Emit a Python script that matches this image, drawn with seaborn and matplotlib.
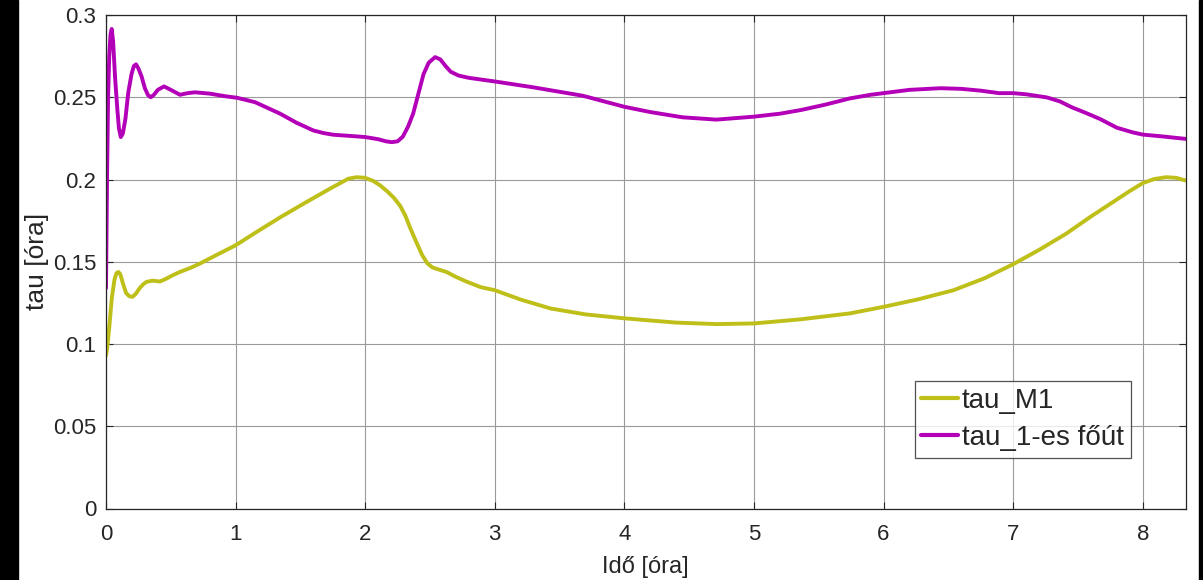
import matplotlib
matplotlib.use("Agg")
import matplotlib.pyplot as plt
from matplotlib.patches import Rectangle
import seaborn as sns
import pandas as pd

# ---- data ----
t_fout = [0.0, 0.008, 0.016, 0.025, 0.035, 0.044, 0.055, 0.07, 0.088, 0.10, 0.114,
          0.13, 0.15, 0.172, 0.198, 0.215, 0.232, 0.25, 0.275, 0.30, 0.325, 0.345,
          0.37, 0.40, 0.448, 0.50, 0.571, 0.63, 0.687, 0.80, 0.93, 1.01, 1.15,
          1.344, 1.47, 1.60, 1.68, 1.755, 1.9, 2.0, 2.1, 2.16, 2.206, 2.25, 2.29,
          2.33, 2.37, 2.41, 2.45, 2.49, 2.54, 2.58, 2.62, 2.66, 2.72, 2.80, 2.89,
          3.0, 3.3, 3.68, 4.0, 4.2, 4.45, 4.71, 5.0, 5.2, 5.36, 5.55, 5.74, 5.9,
          6.0, 6.2, 6.44, 6.6, 6.75, 6.89, 7.0, 7.1, 7.26, 7.36, 7.45, 7.56, 7.67,
          7.8, 7.92, 8.0, 8.15, 8.33]
tau_fout = [0.134, 0.200, 0.250, 0.275, 0.288, 0.2915, 0.284, 0.262, 0.242, 0.231,
            0.2258, 0.228, 0.237, 0.253, 0.2645, 0.269, 0.270, 0.2675, 0.2625,
            0.2555, 0.2512, 0.2500, 0.2515, 0.2545, 0.2566, 0.2545, 0.2515, 0.2525,
            0.253, 0.2522, 0.2505, 0.2497, 0.247, 0.240, 0.2345, 0.2298, 0.2282,
            0.2272, 0.2264, 0.2258, 0.2245, 0.2232, 0.2227, 0.2232, 0.2260, 0.2320,
            0.2400, 0.2520, 0.2640, 0.2710, 0.2744, 0.2730, 0.2690, 0.2655, 0.2632,
            0.2618, 0.2608, 0.2596, 0.2560, 0.2509, 0.2442, 0.2410, 0.2378, 0.2364,
            0.2382, 0.2400, 0.2422, 0.2455, 0.2493, 0.2515, 0.2525, 0.2545, 0.2555,
            0.2551, 0.2540, 0.2525, 0.2525, 0.2518, 0.2499, 0.2475, 0.244, 0.2405,
            0.2368, 0.2315, 0.2287, 0.2273, 0.2262, 0.2247]

t_m1 = [0.0, 0.01, 0.025, 0.045, 0.065, 0.08, 0.095, 0.11, 0.13, 0.155, 0.18,
        0.205, 0.23, 0.26, 0.29, 0.314, 0.36, 0.416, 0.46, 0.52, 0.57, 0.65,
        0.725, 0.85, 1.0, 1.17, 1.344, 1.54, 1.73, 1.80, 1.87, 1.935, 2.0, 2.06,
        2.116, 2.17, 2.22, 2.27, 2.31, 2.35, 2.40, 2.44, 2.48, 2.52, 2.57, 2.63,
        2.70, 2.78, 2.89, 3.0, 3.2, 3.43, 3.7, 4.0, 4.4, 4.71, 5.0, 5.36, 5.74,
        6.0, 6.27, 6.54, 6.78, 7.0, 7.2, 7.41, 7.6, 7.79, 7.9, 8.0, 8.09, 8.18,
        8.26, 8.33]
tau_m1 = [0.093, 0.098, 0.110, 0.128, 0.139, 0.1430, 0.1438, 0.1425, 0.1370,
          0.1310, 0.1290, 0.1287, 0.1305, 0.1340, 0.1365, 0.1378, 0.1385, 0.1380,
          0.1395, 0.1420, 0.1438, 0.1462, 0.1489, 0.154, 0.160, 0.1685, 0.177,
          0.186, 0.1945, 0.1975, 0.2005, 0.2014, 0.2010, 0.1992, 0.1964, 0.1928,
          0.1890, 0.1840, 0.1780, 0.1700, 0.1610, 0.1540, 0.1490, 0.1465, 0.1452,
          0.1437, 0.1408, 0.1380, 0.1346, 0.1327, 0.1270, 0.1216, 0.1180, 0.1156,
          0.1130, 0.1121, 0.1125, 0.115, 0.1186, 0.1226, 0.1272, 0.1327, 0.1400,
          0.1485, 0.1572, 0.1671, 0.1775, 0.1873, 0.1930, 0.1978, 0.2003, 0.2014,
          0.2010, 0.1994]

series_names = ["tau_M1", "tau_1-es főút"]
series_colors = ["#bfbf1a", "#b300b8"]
x_ticks = [0, 1, 2, 3, 4, 5, 6, 7, 8]
y_ticks = [0, 0.05, 0.1, 0.15, 0.2, 0.25, 0.3]
y_tick_labels = ["0", "0.05", "0.1", "0.15", "0.2", "0.25", "0.3"]

df = pd.concat([
    pd.DataFrame({"t": t_m1, "tau": tau_m1, "series": series_names[0]}),
    pd.DataFrame({"t": t_fout, "tau": tau_fout, "series": series_names[1]}),
], ignore_index=True)

sns.set_theme(style="white")
plt.rcParams["font.family"] = ["Liberation Sans", "DejaVu Sans"]

fig = plt.figure(figsize=(12.03, 5.80), dpi=100)
fig.patch.set_facecolor("white")
ax = fig.add_axes([106 / 1203, 1 - 508.5 / 580, (1185.5 - 106) / 1203, (508.5 - 15) / 580])

sns.lineplot(data=df, x="t", y="tau", hue="series", hue_order=series_names,
             palette=dict(zip(series_names, series_colors)), sort=False,
             estimator=None, linewidth=2.8, ax=ax)
for line in ax.get_lines():
    line.set_solid_joinstyle("round")
    line.set_solid_capstyle("round")

ax.set_xlim(0, 8.33)
ax.set_ylim(0, 0.3)
ax.set_xticks(x_ticks)
ax.set_xticklabels([str(v) for v in x_ticks])
ax.set_yticks(y_ticks)
ax.set_yticklabels(y_tick_labels)
ax.grid(True, color="#9a9a9a", linewidth=0.8)
ax.set_axisbelow(True)
for s in ax.spines.values():
    s.set_color("#262626")
    s.set_linewidth(0.9)
    s.set_visible(True)
ax.tick_params(direction="in", length=5, width=0.8, color="#262626",
               labelsize=16, labelcolor="#262626", top=True, right=True,
               bottom=True, left=True)
ax.tick_params(axis="x", pad=11)
ax.tick_params(axis="y", pad=7)
ax.set_xlabel("Idő [óra]", fontsize=17, color="#262626", labelpad=8)
ax.set_ylabel("tau [óra]", fontsize=19, color="#262626", labelpad=3)

leg = ax.legend(loc="lower left", bbox_to_anchor=(0.749, 0.102), fontsize=20,
                frameon=True, fancybox=False, edgecolor="#262626",
                handlelength=1.3, handletextpad=0.15, borderpad=0.25,
                labelspacing=0.42, borderaxespad=0)
leg.get_frame().set_linewidth(0.9)
for line in leg.get_lines():
    line.set_linewidth(3)

fig.add_artist(Rectangle((0, 0), 18 / 1203, 1, transform=fig.transFigure,
                         color="black", zorder=10))
fig.add_artist(Rectangle((1199 / 1203, 0), 4 / 1203, 1, transform=fig.transFigure,
                         color="black", zorder=10))

fig.savefig("out.png", dpi=100)
